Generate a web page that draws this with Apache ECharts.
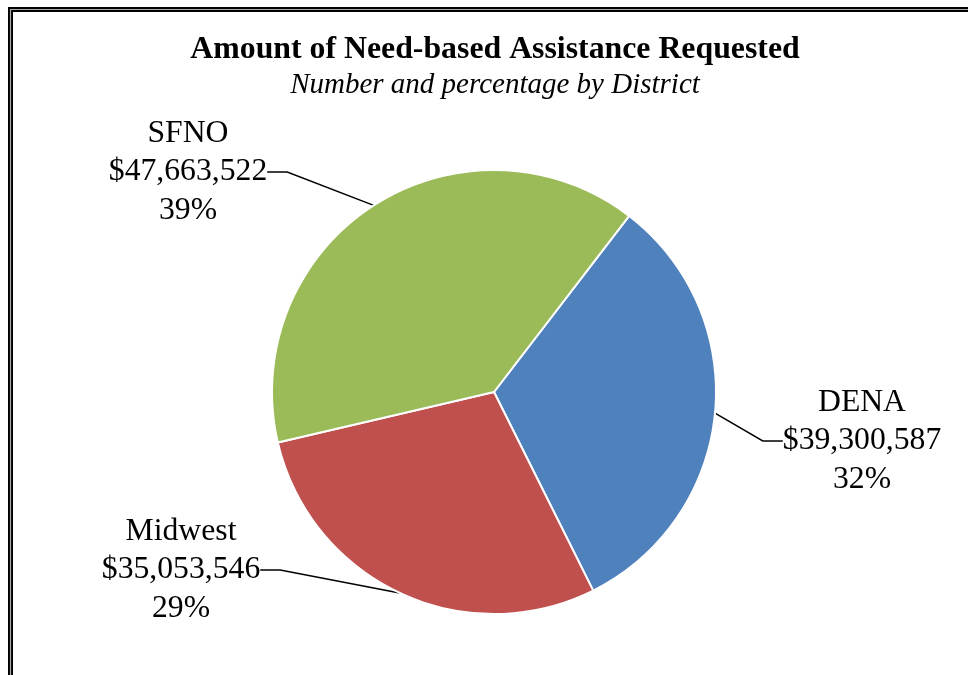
<!DOCTYPE html>
<html>
<head>
<meta charset="utf-8">
<script src="https://cdn.jsdelivr.net/npm/echarts@6/dist/echarts.min.js"></script>
<style>
  html, body { margin: 0; padding: 0; background: #fff; }
  #chart { width: 968px; height: 675px; }
</style>
</head>
<body>
<div id="chart"></div>
<script>
// 数据
const districts = ['DENA', 'Midwest', 'SFNO']
const amounts = [39300587, 35053546, 47663522]
const colors = ['#4F81BD', '#C0504D', '#9BBB59']

// 标签放置位置（像素）
const labelPos = {
  DENA: [862, 441],
  Midwest: [181, 570],
  SFNO: [188, 172]
}

const chart = echarts.init(document.getElementById('chart'))

function money(v) {
  return '$' + v.toLocaleString('en-US')
}

const option = {
  animation: false,
  title: {
    text: 'Amount of Need-based Assistance Requested',
    subtext: 'Number and percentage by District',
    left: 490,
    top: 29,
    textAlign: 'center',
    itemGap: 5,
    textStyle: {
      fontFamily: 'Liberation Serif',
      fontWeight: 'bold',
      fontSize: 31.8,
      color: '#000'
    },
    subtextStyle: {
      fontFamily: 'Liberation Serif',
      fontStyle: 'italic',
      fontSize: 29,
      color: '#000'
    }
  },
  graphic: [
    {
      type: 'rect',
      shape: { x: 10.5, y: 9.5, width: 1200, height: 1200 },
      style: { fill: 'none', stroke: '#000', lineWidth: 5 }
    },
    {
      type: 'rect',
      shape: { x: 10.5, y: 9.5, width: 1200, height: 1200 },
      style: { fill: 'none', stroke: '#aaa', lineWidth: 1.2 }
    }
  ],
  series: [
    {
      type: 'pie',
      center: [494, 392],
      radius: 222,
      startAngle: 52.5,
      percentPrecision: 0,
      itemStyle: { borderColor: '#fff', borderWidth: 2 },
      label: {
        show: true,
        position: 'outside',
        fontFamily: 'Liberation Serif',
        fontSize: 31.7,
        lineHeight: 38.5,
        color: '#000',
        align: 'center',
        formatter: p => p.name + '\n' + money(p.value) + '\n' + p.percent + '%'
      },
      labelLine: {
        show: true,
        length: 20,
        length2: 20,
        lineStyle: { color: '#000', width: 1.5 }
      },
      labelLayout: function (params) {
        const pos = labelPos[districts[params.dataIndex]]
        return { x: pos[0], y: pos[1], align: 'center', verticalAlign: 'middle' }
      },
      data: districts.map((d, i) => ({
        name: d,
        value: amounts[i],
        itemStyle: { color: colors[i] }
      }))
    }
  ]
}

chart.setOption(option)
window.addEventListener('resize', function () {
  chart.resize()
})
</script>
</body>
</html>
